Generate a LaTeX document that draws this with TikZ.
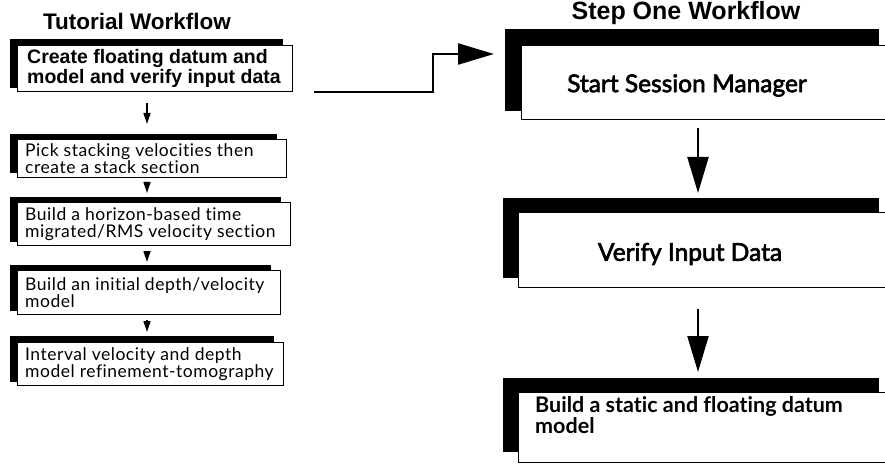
\documentclass[tikz,border=0pt]{standalone}
\usepackage{fontspec}
\setmainfont{Liberation Sans}
\newfontfamily\stepfont[Ligatures={NoCommon,NoContextual}]{Lato}
\newfontfamily\stepmedium[Ligatures={NoCommon,NoContextual},FakeBold=2.6]{Lato}
\usetikzlibrary{arrows.meta,calc}

\begin{document}
\begin{tikzpicture}[x=1pt,y=-1pt,
  backbox/.style={draw=black,fill=black,inner sep=0pt,anchor=north west},
  frontbox/.style={draw=black,fill=white,line width=0.9pt,inner sep=0pt,anchor=north west},
  title/.style={font=\fontsize{22.5}{26}\selectfont\bfseries},
  boxtext/.style={anchor=west,align=left,inner sep=0pt},
  lefttext/.style={boxtext,font=\stepfont\addfontfeature{LetterSpace=3}\fontsize{17.5}{16.5}\selectfont},
  righttext/.style={font=\stepmedium\fontsize{24.5}{28}\selectfont},
  smallarrow/.style={line width=1.4pt,-{Triangle[length=11pt,width=7pt]}},
  bigarrow/.style={line width=2.2pt,-{Triangle[length=36pt,width=21pt]}},
]
\useasboundingbox (0,0) rectangle (885,470);

% ---------------- left column: tutorial workflow ----------------
\node[title] (tw) at (137,21) {Tutorial Workflow};

\node[backbox,minimum width=272pt,minimum height=48pt] (k1) at (10,39) {};
\node[frontbox,minimum width=275pt,minimum height=46pt] (f1) at (17,45) {};
\node[boxtext,font=\fontsize{19.5}{16.5}\selectfont\bfseries] (t1) at ($(f1.west)+(10,0)$)
  {Create floating datum and\\model and verify input data};

\node[backbox,minimum width=266pt,minimum height=38pt] (k2) at (10,134) {};
\node[frontbox,minimum width=269pt,minimum height=38pt] (f2) at (17,139) {};
\node[lefttext] (t2) at ($(f2.west)+(8,0)$)
  {Pick stacking velocities then\\create a stack section};

\node[backbox,minimum width=270pt,minimum height=44pt] (k3) at (10,197) {};
\node[frontbox,minimum width=273pt,minimum height=43pt] (f3) at (17,202) {};
\node[lefttext] (t3) at ($(f3.west)+(8,0)$)
  {Build a horizon-based time\\migrated/RMS velocity section};

\node[backbox,minimum width=260pt,minimum height=45pt] (k4) at (10,265) {};
\node[frontbox,minimum width=263pt,minimum height=44pt] (f4) at (17,270) {};
\node[lefttext] (t4) at ($(f4.west)+(8,0)$)
  {Build an initial depth/velocity\\model};

\node[backbox,minimum width=263pt,minimum height=45pt] (k5) at (10,336) {};
\node[frontbox,minimum width=266pt,minimum height=43pt] (f5) at (17,342) {};
\node[lefttext] (t5) at ($(f5.west)+(8,0)$)
  {Interval velocity and depth\\model refinement-tomography};

\coordinate (ax) at (147,0);
\draw[smallarrow,shorten <=11pt,shorten >=10pt] (f1.south -| ax) -- (k2.north -| ax);
\draw[smallarrow,shorten <=4pt,shorten >=4pt]  (f2.south -| ax) -- (k3.north -| ax);
\draw[smallarrow,shorten <=5pt,shorten >=3pt]  (f3.south -| ax) -- (k4.north -| ax);
\draw[smallarrow,shorten <=5pt,shorten >=4pt]  (f4.south -| ax) -- (k5.north -| ax);

% ---------------- right column: step one workflow ----------------
\node[font=\fontsize{25}{28}\selectfont\bfseries] (sw) at (686,13) {Step One Workflow};

\node[backbox,minimum width=373pt,minimum height=81pt] (r1k) at (505,29) {};
\node[frontbox,minimum width=380pt,minimum height=74pt] (r1f) at (521,45) {};
\node[righttext] (r1t) at ($(r1f.west)+(166,3)$) {Start Session Manager};

\node[backbox,minimum width=375pt,minimum height=79pt] (r2k) at (503,198) {};
\node[frontbox,minimum width=382pt,minimum height=75pt] (r2f) at (518,212) {};
\node[righttext] (r2t) at ($(r2f.west)+(172,4)$) {Verify Input Data};

\node[backbox,minimum width=375pt,minimum height=73pt] (r3k) at (503,378) {};
\node[frontbox,minimum width=382pt,minimum height=70pt] (r3f) at (518,392) {};
\node[boxtext,font=\stepfont\fontsize{21.5}{19}\selectfont\bfseries] (r3t) at ($(r3f.west)+(17,-12)$)
  {Build a static and floating datum\\model};

\coordinate (bx) at (698,0);
\draw[bigarrow,shorten <=8pt,shorten >=5pt]  (r1f.south -| bx) -- (r2k.north -| bx);
\draw[bigarrow,shorten <=21pt,shorten >=6pt] (r2f.south -| bx) -- (r3k.north -| bx);

% ---------------- link from the tutorial to step one ----------------
\coordinate (bend) at (433,54);
\draw[bigarrow,shorten >=11pt] ([xshift=21pt]f1.south east) -| (bend) -- (bend -| r1k.west);
\end{tikzpicture}
\end{document}
